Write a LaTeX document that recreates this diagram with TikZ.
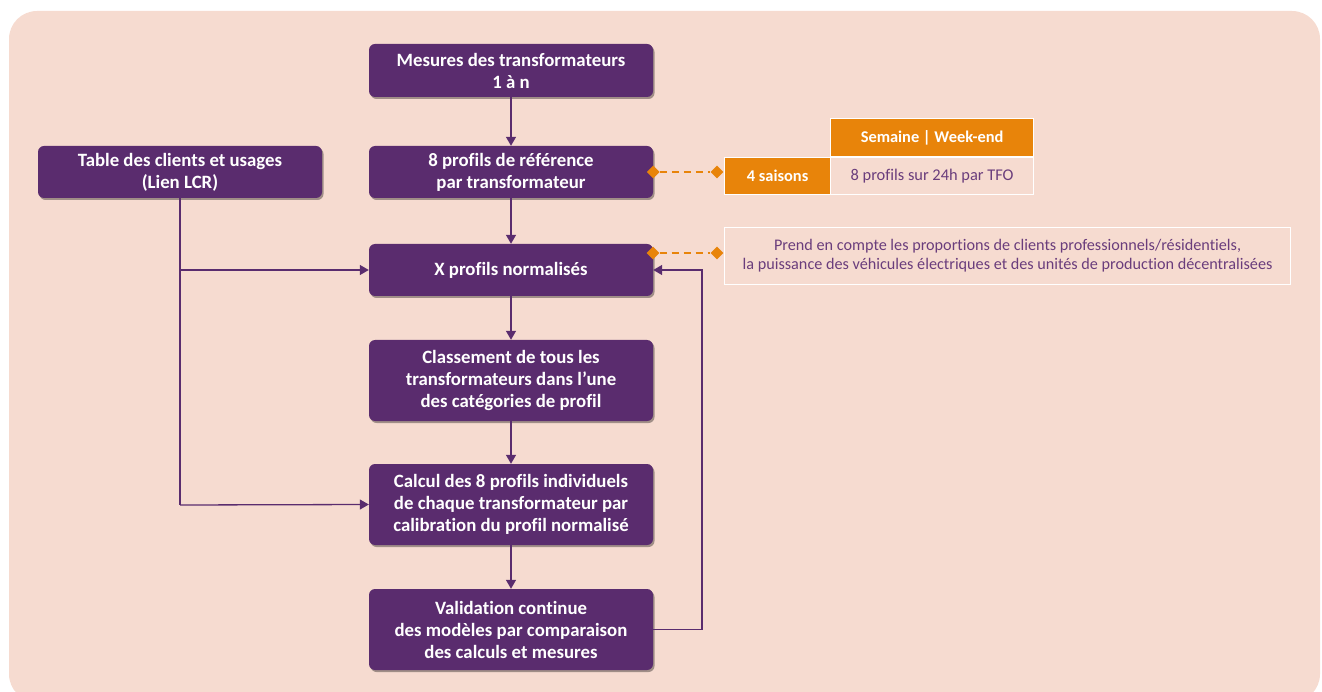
\documentclass[tikz,border=0pt]{standalone}
\usepackage{fontspec}
\setmainfont{Carlito}[Ligatures=NoCommon]
\usetikzlibrary{shadows,arrows.meta,shapes.geometric}
\definecolor{bgc}{HTML}{F6DBD0}
\definecolor{purp}{HTML}{5A2C6E}
\definecolor{orng}{HTML}{E8840A}
\definecolor{ptxt}{HTML}{6A3D7C}
\begin{document}
\begin{tikzpicture}[x=1pt,y=-1pt,
  pbox/.style={draw=none,fill=purp,rounded corners=6pt,text=white,font=\fontsize{18.8}{22}\selectfont\bfseries,
    align=center,minimum width=284pt,inner sep=0pt,
    drop shadow={shadow xshift=1.5pt,shadow yshift=-2pt,fill=black,opacity=0.35}},
  conn/.style={draw=purp,line width=1.3pt},
  arr/.style={conn,-{Triangle[length=9pt,width=10pt]}},
  dashc/.style={draw=orng,line width=1.5pt,dash pattern=on 7pt off 5pt},
  dia/.style={diamond,fill=orng,inner sep=0pt,minimum width=13pt,minimum height=13pt},
  ocell/.style={fill=orng,draw=white,line width=1.2pt,text=white,font=\fontsize{16.4}{18}\selectfont\bfseries,inner sep=0pt,anchor=north west},
  pcell/.style={fill=bgc,draw=white,line width=1.2pt,text=ptxt,font=\fontsize{16.4}{18}\selectfont,inner sep=0pt,anchor=north west},
]
\useasboundingbox (0,0) rectangle (1322,692);
\fill[bgc,rounded corners=28pt] (9,11) rectangle (1320,702);

\node[pbox,minimum height=53pt] (mes) at (511,70.5) {Mesures des transformateurs\\1 à n};
\node[pbox,minimum height=52pt] (ref) at (511,172) {8 profils de référence\\par transformateur};
\node[pbox,minimum height=52pt] (tab) at (180,172) {Table des clients et usages\\(Lien LCR)};
\node[pbox,minimum height=52pt] (norm) at (511,270) {X profils normalisés};
\node[pbox,minimum height=81pt] (cls) at (511,380.5) {Classement de tous les\\transformateurs dans l’une\\des catégories de profil};
\node[pbox,minimum height=81pt] (calc) at (511,504.5) {Calcul des 8 profils individuels\\de chaque transformateur par\\calibration du profil normalisé};
\node[pbox,minimum height=81pt] (val) at (511,629.5) {Validation continue\\des modèles par comparaison\\des calculs et mesures};

\draw[arr] (mes) -- (ref);
\draw[arr] (ref) -- (norm);
\draw[arr] (norm) -- (cls);
\draw[arr] (cls) -- (calc);
\draw[arr] (calc) -- (val);

\coordinate (tj1) at (180,270);
\coordinate (tj2) at (180,505);
\draw[conn] (tab.south) -- (tj2);
\draw[arr] (tj1) -- (norm.west);
\draw[arr] (tj2) -- (calc.west);

\coordinate (fb1) at (702,629.5);
\coordinate (fb2) at (702,270);
\draw[arr] (val.east) -- (fb1) -- (fb2) -- (norm.east);

% table
\node[ocell,minimum width=106pt,minimum height=37pt] (sais) at (724,157) {4 saisons};
\node[ocell,minimum width=203pt,minimum height=38pt] (sem) at (830,118) {Semaine | Week-end};
\node[pcell,minimum width=203pt,minimum height=37pt] (prof) at (830,157) {8 profils sur 24h par TFO};

\node[dia] (d1) at (ref.east) {};
\node[dia] (d2) at (717,172) {};
\draw[dashc] (d1) -- (d2);

\node[pcell,minimum width=566pt,minimum height=57pt,align=center,font=\fontsize{16.2}{19}\selectfont] (note) at (724,227)
 {Prend en compte les proportions de clients professionnels/résidentiels,\\la puissance des véhicules électriques et des unités de production décentralisées};
\node[dia] (d3) at (653,253) {};
\node[dia] (d4) at (717,253) {};
\draw[dashc] (d3) -- (d4);
\end{tikzpicture}
\end{document}
